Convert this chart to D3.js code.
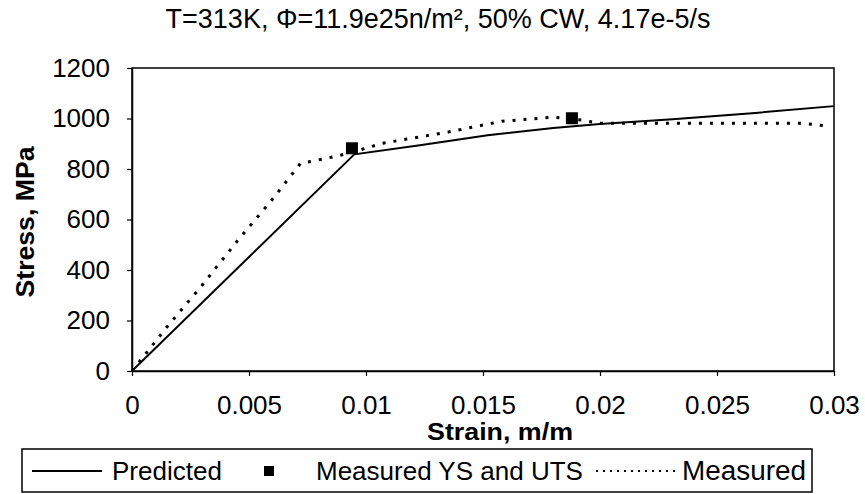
<!DOCTYPE html>
<html>
<head>
<meta charset="utf-8">
<script src="https://cdn.jsdelivr.net/npm/d3@7"></script>
<style>
    body { margin: 0; background: #fff; }
    text { font-family: "Liberation Sans", Arial, sans-serif; fill: #000; }
</style>
</head>
<body>
<svg id="chart" width="865" height="494"></svg>
<script>
// values
const predictedStrain = [0, 0.0095, 0.0123, 0.0152, 0.018, 0.02, 0.0231, 0.0265, 0.03];
const predictedStress = [0, 858, 894, 934, 962, 978, 997, 1021, 1049];

const measuredStrain = [0, 0.0015, 0.003, 0.0045, 0.006, 0.0072, 0.0082, 0.0093, 0.0107, 0.0135, 0.0158, 0.018, 0.0193, 0.0199, 0.0231, 0.0287, 0.0297];
const measuredStress = [0, 175, 340, 515, 680, 822, 840, 863, 902, 946, 989, 1005, 993, 981, 981, 981, 970];

const ysUtsStrain = [0.0094, 0.0188];
const ysUtsStress = [882, 1001];

const xTicks = [0, 0.005, 0.01, 0.015, 0.02, 0.025, 0.03];
const yTicks = [0, 200, 400, 600, 800, 1000, 1200];

const titleText = 'T=313K, \u03A6=11.9e25n/m\u00B2, 50% CW, 4.17e-5/s';

const svg = d3.select('#chart');
const plot = { left: 132, right: 834, top: 68, bottom: 371 };

const x = d3.scaleLinear().domain([0, 0.03]).range([plot.left, plot.right]);
const y = d3.scaleLinear().domain([0, 1200]).range([plot.bottom, plot.top]);

// title
svg.append('text')
    .attr('x', 438).attr('y', 28)
    .attr('text-anchor', 'middle')
    .style('font-size', '27px')
    .text(titleText);

// plot frame
svg.append('rect')
    .attr('x', plot.left).attr('y', plot.top)
    .attr('width', plot.right - plot.left).attr('height', plot.bottom - plot.top)
    .attr('fill', 'none').attr('stroke', '#000').attr('stroke-width', 1.5);

// axes
const xAxis = svg.append('g')
    .attr('transform', 'translate(0,' + plot.bottom + ')')
    .call(d3.axisBottom(x).tickValues(xTicks).tickSize(5).tickSizeOuter(0).tickPadding(20)
        .tickFormat(d => String(+d.toFixed(3))));
const yAxis = svg.append('g')
    .attr('transform', 'translate(' + plot.left + ',0)')
    .call(d3.axisLeft(y).tickValues(yTicks).tickSize(5).tickSizeOuter(0).tickPadding(17)
        .tickFormat(d => String(d)));

[xAxis, yAxis].forEach(g => {
    g.select('.domain').attr('stroke-width', 1.5);
    g.selectAll('.tick line').attr('stroke-width', 1.2);
    g.selectAll('text').style('font-size', '26px').attr('font-family', '"Liberation Sans", Arial, sans-serif');
});

// axis titles
svg.append('text')
    .attr('x', 500).attr('y', 440)
    .attr('text-anchor', 'middle')
    .style('font-size', '24px').style('font-weight', 'bold')
    .attr('textLength', 146).attr('lengthAdjust', 'spacingAndGlyphs')
    .text('Strain, m/m');

svg.append('text')
    .attr('transform', 'translate(34,222) rotate(-90)')
    .attr('text-anchor', 'middle')
    .style('font-size', '25px').style('font-weight', 'bold')
    .attr('textLength', 151).attr('lengthAdjust', 'spacingAndGlyphs')
    .text('Stress, MPa');

// series
const line = d3.line().x(d => x(d[0])).y(d => y(d[1]));

const measured = measuredStrain.map((s, i) => [s, measuredStress[i]]);
const predicted = predictedStrain.map((s, i) => [s, predictedStress[i]]);
const ysUts = ysUtsStrain.map((s, i) => [s, ysUtsStress[i]]);

svg.append('path')
    .datum(measured)
    .attr('d', line)
    .attr('fill', 'none').attr('stroke', '#000')
    .attr('stroke-width', 3)
    .attr('stroke-dasharray', '3,8');

svg.append('path')
    .datum(predicted)
    .attr('d', line)
    .attr('fill', 'none').attr('stroke', '#000')
    .attr('stroke-width', 2);

svg.selectAll('.ysuts')
    .data(ysUts)
    .enter()
    .append('rect')
    .attr('class', 'ysuts')
    .attr('x', d => x(d[0]) - 6).attr('y', d => y(d[1]) - 6)
    .attr('width', 12).attr('height', 12)
    .attr('fill', '#000');

// legend
const legend = svg.append('g');
legend.append('rect')
    .attr('x', 22).attr('y', 449).attr('width', 790).attr('height', 43)
    .attr('fill', 'none').attr('stroke', '#000').attr('stroke-width', 1.5);

const legendY = 471;
legend.append('line')
    .attr('x1', 32).attr('x2', 102).attr('y1', legendY).attr('y2', legendY)
    .attr('stroke', '#000').attr('stroke-width', 2);
legend.append('text')
    .attr('x', 112).attr('y', legendY + 9)
    .style('font-size', '26px')
    .text('Predicted');

legend.append('rect')
    .attr('x', 264).attr('y', legendY - 5).attr('width', 10).attr('height', 10)
    .attr('fill', '#000');
legend.append('text')
    .attr('x', 316).attr('y', legendY + 9)
    .style('font-size', '26px')
    .text('Measured YS and UTS');

legend.append('line')
    .attr('x1', 596).attr('x2', 678).attr('y1', legendY).attr('y2', legendY)
    .attr('stroke', '#000').attr('stroke-width', 2)
    .attr('stroke-dasharray', '2,5');
legend.append('text')
    .attr('x', 682).attr('y', legendY + 9)
    .style('font-size', '27px')
    .attr('textLength', 124).attr('lengthAdjust', 'spacingAndGlyphs')
    .text('Measured');
</script>
</body>
</html>
